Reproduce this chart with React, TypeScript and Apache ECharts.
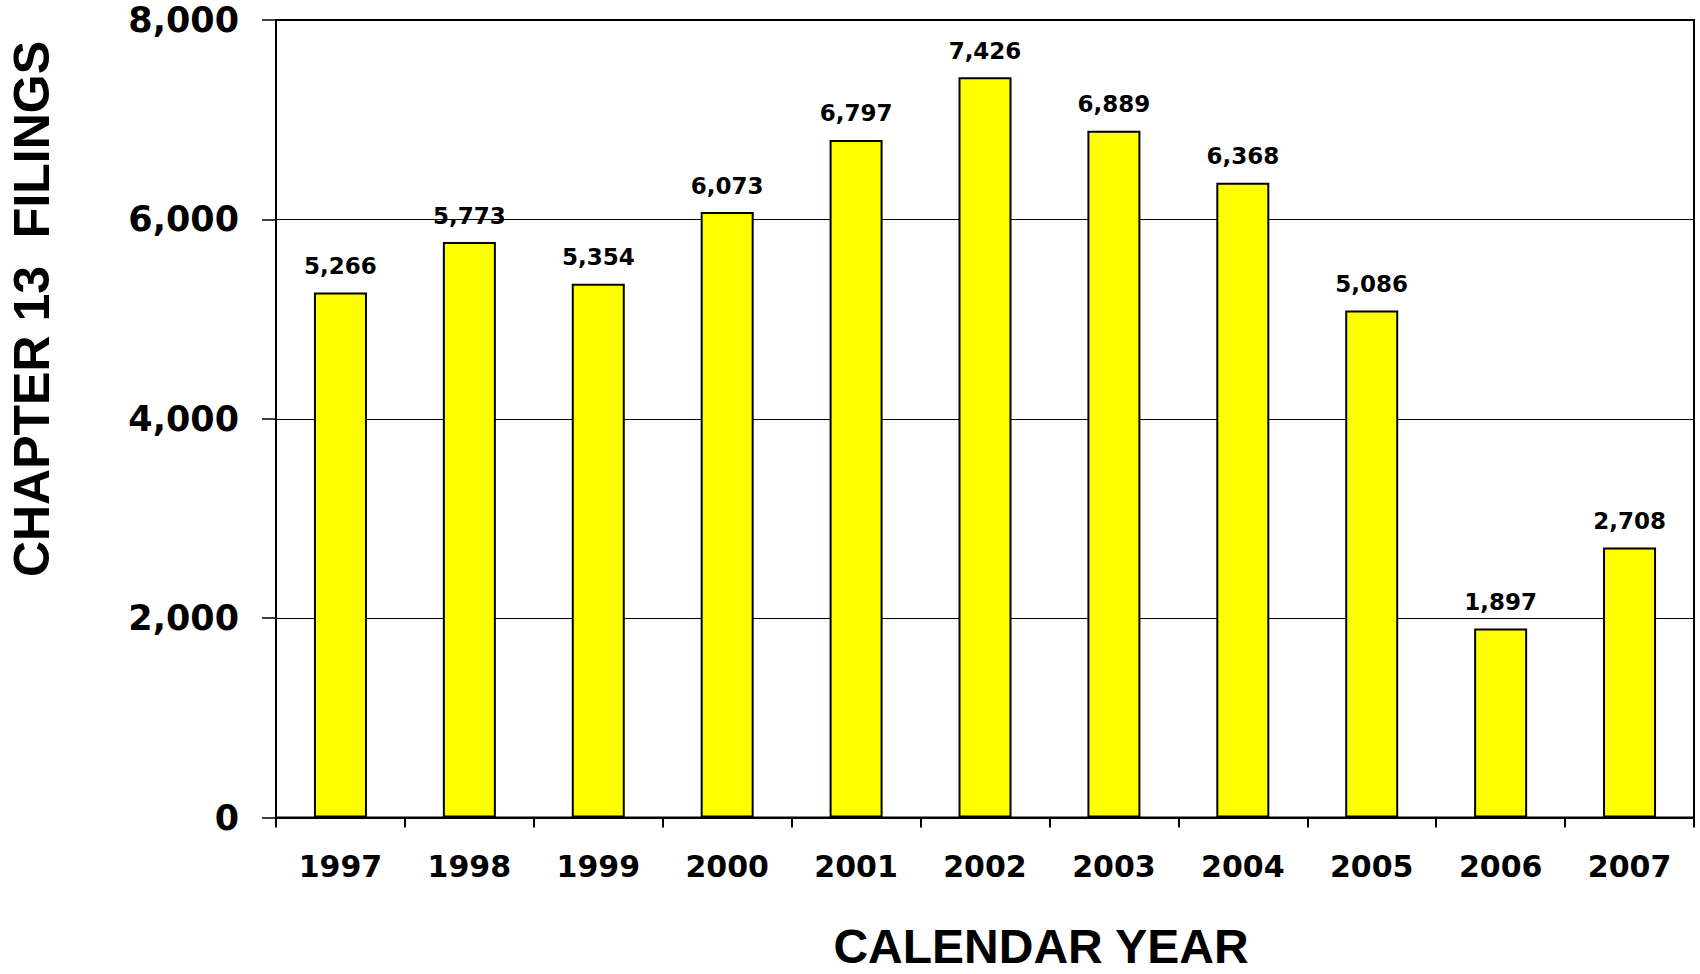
import React, { useEffect, useRef } from "react";
import * as echarts from "echarts";

const years = ["1997", "1998", "1999", "2000", "2001", "2002", "2003", "2004", "2005", "2006", "2007"];
const filings = [5266, 5773, 5354, 6073, 6797, 7426, 6889, 6368, 5086, 1897, 2708];
const yMin = 0;
const yMax = 8000;
const yStep = 2000;
const xTitle = "CALENDAR YEAR";
const yTitle = "CHAPTER 13  FILINGS";

const fmt = (v: number) => Number(v).toLocaleString("en-US");

export default function App() {
  const ref = useRef<HTMLDivElement>(null);
  useEffect(() => {
    if (!ref.current) return;
    const chart = echarts.init(ref.current, null, { renderer: "svg" });
    chart.setOption({
      animation: false,
      backgroundColor: "#ffffff",
      grid: {
        left: 276,
        top: 20,
        right: 6,
        bottom: 156.4,
        show: true,
        borderColor: "#000",
        borderWidth: 2,
        backgroundColor: "transparent",
      },
      xAxis: {
        type: "category",
        data: years,
        boundaryGap: true,
        axisLine: { show: true, lineStyle: { color: "#000", width: 2 } },
        axisTick: { show: true, alignWithLabel: false, length: 10, lineStyle: { color: "#000", width: 2 } },
        axisLabel: {
          color: "#000",
          fontFamily: "DejaVu Sans",
          fontWeight: "bold",
          fontSize: 30,
          margin: 34,
        },
      },
      yAxis: {
        type: "value",
        min: yMin,
        max: yMax,
        interval: yStep,
        axisLine: { show: true, lineStyle: { color: "#000", width: 2 } },
        axisTick: { show: true, length: 14, lineStyle: { color: "#000", width: 1.5 } },
        splitLine: { show: true, lineStyle: { color: "#000", width: 1 } },
        axisLabel: {
          color: "#000",
          fontFamily: "DejaVu Sans",
          fontWeight: "bold",
          fontSize: 35,
          margin: 37,
          formatter: (v: number) => fmt(v),
        },
      },
      series: [
        {
          type: "bar",
          data: filings,
          barWidth: 53,
          itemStyle: { color: "#FFFF00", borderColor: "#000", borderWidth: 2 },
          label: {
            show: true,
            position: "top",
            distance: 15,
            color: "#000",
            fontFamily: "DejaVu Sans",
            fontWeight: "bold",
            fontSize: 23,
            formatter: (p: any) => fmt(p.value),
          },
        },
      ],
      graphic: [
        {
          type: "text",
          x: 31.5,
          y: 309,
          rotation: Math.PI / 2,
          style: {
            text: yTitle,
            x: 0,
            y: 0,
            fill: "#000",
            font: 'bold 50px "Liberation Sans", Arial, sans-serif',
            align: "center",
            verticalAlign: "middle",
            textAlign: "center",
            textVerticalAlign: "middle",
          },
        },
        {
          type: "text",
          x: 1041,
          y: 946,
          style: {
            text: xTitle,
            x: 0,
            y: 0,
            fill: "#000",
            font: 'bold 48px "Liberation Sans", Arial, sans-serif',
            align: "center",
            verticalAlign: "middle",
            textAlign: "center",
            textVerticalAlign: "middle",
          },
        },
      ],
    });
    return () => chart.dispose();
  }, []);
  return (
    <div
      ref={ref}
      style={{ position: "fixed", left: 0, top: 0, width: 1700, height: 974, background: "#fff" }}
    />
  );
}
